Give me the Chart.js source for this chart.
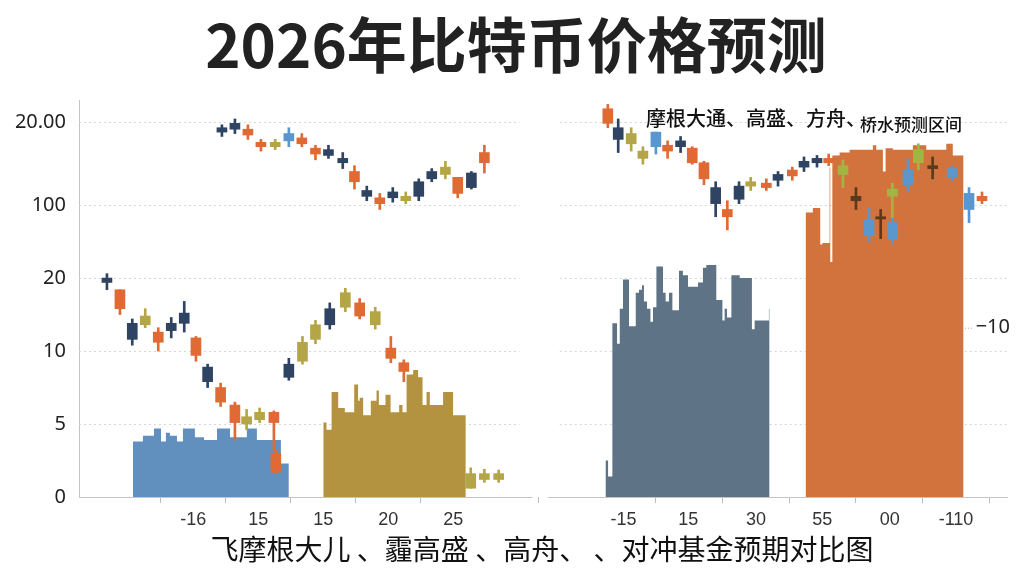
<!DOCTYPE html>
<html>
<head>
<meta charset="utf-8">
<script src="https://cdn.jsdelivr.net/npm/chart.js@4.4.1/dist/chart.umd.min.js"></script>
<style>
  html, body { margin: 0; background: #fff; }
</style>
</head>
<body>
<canvas id="canvas" width="1024" height="576"></canvas>
<script>
// y axis: odd labels from the picture, placed at even steps
var yTickValues = [0, 5, 10, 15, 20, 25.7];
var yTickLabels = ['0', '5', '10', '20', '100', '20.00'];

var xTickValues = [8.8, 13.8, 18.8, 23.8, 28.8, 41.9, 46.9, 52.1, 57.2, 62.4, 67.5];
var xTickLabels = ['-16', '15', '15', '20', '25', '-15', '15', '30', '55', '00', '-110'];

// candles: [x, open, close, high, low, source]
var candlesLowerLeft = [
  [2.15, 15.0, 14.7, 15.3, 14.2, 'JPM'],
  [3.15, 14.2, 12.9, 14.2, 12.5, 'GS'],
  [4.1, 11.9, 10.8, 12.2, 10.4, 'JPM'],
  [5.1, 12.4, 11.8, 12.9, 11.6, 'ARK'],
  [6.1, 11.3, 10.6, 11.6, 10.0, 'GS'],
  [7.1, 11.9, 11.4, 12.3, 10.9, 'JPM'],
  [8.1, 12.6, 11.9, 13.4, 11.3, 'JPM'],
  [9.0, 10.9, 9.7, 11.0, 9.3, 'GS'],
  [9.9, 8.9, 7.9, 9.1, 7.5, 'JPM'],
  [10.9, 7.5, 6.5, 7.8, 6.2, 'GS'],
  [12.0, 6.3, 5.1, 6.5, 3.9, 'GS'],
  [12.9, 5.5, 5.0, 6.0, 4.6, 'ARK'],
  [13.9, 5.8, 5.3, 6.1, 5.1, 'ARK'],
  [15.0, 5.8, 5.1, 5.9, 3.2, 'GS'],
  [15.15, 3.0, 1.7, 3.2, 1.6, 'GS'],
  [16.15, 9.1, 8.2, 9.5, 8.0, 'JPM'],
  [17.2, 10.6, 9.3, 11.0, 9.1, 'ARK'],
  [18.2, 11.8, 10.8, 12.1, 10.5, 'ARK'],
  [19.3, 12.9, 11.8, 13.3, 11.5, 'JPM'],
  [20.5, 14.0, 13.0, 14.3, 12.7, 'ARK'],
  [21.6, 13.3, 12.4, 13.6, 12.2, 'GS'],
  [22.8, 12.7, 11.8, 13.0, 11.5, 'ARK'],
  [24.0, 10.2, 9.5, 11.0, 9.2, 'GS'],
  [25.0, 9.2, 8.6, 9.4, 7.9, 'GS'],
  [30.15, 1.6, 0.6, 2.0, 0.6, 'ARK'],
  [31.2, 1.6, 1.2, 1.9, 1.0, 'ARK'],
  [32.3, 1.6, 1.2, 1.85, 1.0, 'ARK']
];

var candlesUpperLeft = [
  [11.0, 25.3, 25.0, 25.5, 24.7, 'JPM'],
  [12.0, 25.6, 25.2, 25.9, 24.9, 'JPM'],
  [13.0, 25.2, 24.8, 25.5, 24.5, 'GS'],
  [14.0, 24.3, 24.0, 24.5, 23.7, 'GS'],
  [15.1, 24.3, 24.0, 24.5, 23.8, 'ARK'],
  [16.15, 24.9, 24.4, 25.3, 24.0, 'BW'],
  [17.15, 24.6, 24.2, 24.9, 24.0, 'GS'],
  [18.2, 23.9, 23.5, 24.1, 23.1, 'GS'],
  [19.2, 23.8, 23.4, 24.1, 23.2, 'JPM'],
  [20.3, 23.2, 22.9, 23.6, 22.5, 'JPM'],
  [21.2, 22.3, 21.6, 22.7, 21.1, 'GS'],
  [22.15, 21.0, 20.6, 21.3, 20.3, 'JPM'],
  [23.15, 20.5, 20.1, 20.8, 19.7, 'GS'],
  [24.15, 20.9, 20.5, 21.2, 20.2, 'JPM'],
  [25.15, 20.6, 20.3, 20.9, 20.1, 'ARK'],
  [26.15, 21.6, 20.6, 21.8, 20.3, 'JPM'],
  [27.15, 22.3, 21.8, 22.5, 21.6, 'JPM'],
  [28.2, 22.6, 22.1, 23.0, 21.8, 'ARK'],
  [29.15, 21.9, 20.8, 21.9, 20.5, 'GS'],
  [30.2, 22.2, 21.2, 22.3, 21.1, 'JPM'],
  [31.2, 23.6, 22.9, 24.1, 22.2, 'GS']
];

var candlesRight = [
  [40.7, 26.6, 25.6, 26.9, 25.3, 'GS'],
  [41.5, 25.3, 24.5, 25.9, 23.6, 'JPM'],
  [42.5, 24.9, 24.2, 25.3, 23.7, 'ARK'],
  [43.4, 23.7, 23.2, 24.0, 22.8, 'ARK'],
  [44.4, 25.0, 24.0, 25.0, 23.5, 'BW'],
  [45.3, 24.1, 23.7, 24.4, 23.2, 'GS'],
  [46.3, 24.4, 24.0, 24.7, 23.6, 'JPM'],
  [47.2, 23.9, 22.9, 24.0, 22.8, 'GS'],
  [48.1, 22.9, 21.8, 23.0, 21.4, 'GS'],
  [49.0, 21.2, 20.1, 21.6, 19.2, 'JPM'],
  [49.9, 19.7, 19.2, 20.3, 18.3, 'GS'],
  [50.8, 21.3, 20.4, 21.6, 20.1, 'JPM'],
  [51.7, 21.6, 21.3, 21.9, 21.0, 'ARK'],
  [52.9, 21.5, 21.2, 21.8, 21.0, 'GS'],
  [53.8, 22.1, 21.7, 22.3, 21.3, 'JPM'],
  [54.9, 22.4, 22.0, 22.6, 21.7, 'GS'],
  [55.8, 23.0, 22.6, 23.3, 22.3, 'JPM'],
  [56.8, 23.2, 22.9, 23.4, 22.6, 'JPM'],
  [57.7, 23.2, 22.9, 23.5, 22.7, 'GS'],
  [58.8, 22.7, 22.1, 23.1, 21.2, 'HF2'],
  [59.8, 20.6, 20.3, 21.2, 19.7, 'HF'],
  [60.8, 19.0, 17.9, 19.8, 17.5, 'BW'],
  [61.7, 19.2, 19.05, 19.7, 17.7, 'HF'],
  [62.6, 21.1, 20.6, 21.5, 19.1, 'HF2'],
  [62.6, 18.8, 17.7, 19.1, 17.3, 'BW'],
  [63.8, 22.4, 21.4, 23.2, 20.9, 'BW'],
  [64.6, 23.8, 22.9, 24.2, 22.4, 'HF2'],
  [65.7, 22.7, 22.5, 23.3, 21.8, 'HF'],
  [67.2, 22.5, 21.9, 22.7, 21.7, 'BW'],
  [68.5, 20.8, 19.7, 21.2, 18.8, 'BW'],
  [69.5, 20.6, 20.3, 20.9, 20.1, 'GS']
];

// step areas: start x of each step and its height, last x closes the area
var histBlueX = [4.15, 4.92, 5.77, 6.31, 6.69, 7.0, 7.54, 8.0, 8.92, 9.62, 10.62, 11.62, 12.92, 13.69, 15.54, 16.15];
var histBlueY = [3.8, 4.2, 4.7, 3.8, 4.4, 4.2, 3.8, 4.7, 4.1, 3.9, 4.7, 4.1, 4.7, 3.9, 2.3, 0];

var histGoldX = [18.8, 19.05, 19.44, 19.95, 20.46, 21.18, 21.48, 21.6, 21.87, 22.46, 22.9, 23.08, 23.59, 23.98, 24.64, 24.9, 25.21, 25.72, 26.1, 26.44, 26.75, 27.0, 28.02, 28.79, 29.77];
var histGoldY = [5.1, 4.6, 7.2, 6.1, 5.8, 7.7, 6.6, 6.8, 5.6, 6.6, 7.3, 6.3, 7.0, 5.8, 6.3, 5.8, 8.4, 8.7, 8.2, 6.3, 7.2, 6.3, 7.2, 5.6, 0];

var histSlateX = [40.52, 40.72, 41.05, 41.41, 41.62, 41.87, 42.33, 42.85, 43.1, 43.33, 43.48, 43.72, 43.98, 44.18, 44.44, 44.95, 45.15, 45.41, 45.67, 46.18, 46.48, 46.87, 47.64, 48.02, 48.28, 49.05, 49.52, 49.69, 49.87, 50.21, 50.85, 51.79, 52.0, 53.1, 53.15];
var histSlateY = [2.5, 1.4, 11.9, 10.5, 12.9, 14.9, 11.7, 14.0, 14.2, 14.5, 13.4, 12.9, 12.0, 13.0, 15.8, 14.0, 13.4, 14.0, 12.8, 15.5, 15.2, 14.4, 14.7, 15.7, 15.9, 13.5, 12.1, 12.9, 12.3, 15.2, 15.0, 11.5, 12.1, 12.9, 0];

var histOrangeX = [55.92, 56.48, 57.05, 57.21, 57.77, 57.82, 57.98, 58.54, 59.31, 61.1, 61.36, 61.87, 62.08, 62.64, 64.18, 65.21, 66.75, 67.25, 68.08];
var histOrangeY = [19.5, 19.8, 17.3, 17.4, 22.6, 16.1, 23.4, 23.6, 23.8, 24.1, 23.8, 22.3, 23.9, 23.8, 24.1, 23.8, 24.2, 23.4, 0];

var colors = {
  JPM: '#2f4462',
  GS: '#e06a34',
  ARK: '#b4a646',
  BW: '#5b97cf',
  HF: '#5a3a1c',
  HF2: '#a4b443'
};

var allCandles = candlesLowerLeft.concat(candlesUpperLeft, candlesRight);

function stepData(xs, ys) {
  return xs.map(function (v, i) { return { x: v, y: ys[i] }; });
}

function histSet(xs, ys, color) {
  return {
    type: 'line',
    data: stepData(xs, ys),
    stepped: 'before',
    fill: 'origin',
    backgroundColor: color,
    borderWidth: 0,
    pointRadius: 0,
    order: 3
  };
}

var panels = [
  { grid: [0, 33.9], axis: [0, 34.9] },
  { grid: [37.0, 71.5], axis: [36.1, 71.5] }
];

var extras = {
  id: 'extras',
  beforeDatasetsDraw: function (chart) {
    var ctx = chart.ctx, x = chart.scales.x, y = chart.scales.y;
    ctx.save();
    ctx.strokeStyle = '#d6d6d6';
    ctx.lineWidth = 1;
    ctx.setLineDash([2, 3]);
    yTickValues.slice(1).forEach(function (v) {
      var py = Math.round(y.getPixelForValue(v)) + 0.5;
      panels.forEach(function (p) {
        ctx.beginPath();
        ctx.moveTo(x.getPixelForValue(p.grid[0]), py);
        ctx.lineTo(x.getPixelForValue(p.grid[1]), py);
        ctx.stroke();
      });
    });
    ctx.setLineDash([]);
    ctx.strokeStyle = '#c4c4c4';
    var by = Math.round(y.getPixelForValue(0)) + 0.5;
    panels.forEach(function (p) {
      ctx.beginPath();
      ctx.moveTo(x.getPixelForValue(p.axis[0]), by);
      ctx.lineTo(x.getPixelForValue(p.axis[1]), by);
      ctx.stroke();
    });
    ctx.restore();
  },
  afterDraw: function (chart) {
    var ctx = chart.ctx, a = chart.chartArea, y = chart.scales.y;
    ctx.save();
    ctx.fillStyle = '#222';
    ctx.textAlign = 'center';
    ctx.textBaseline = 'middle';
    ctx.font = 'bold 60px "Noto Sans CJK SC"';
    ctx.fillText('2026年比特币价格预测', 516, 45);

    ctx.fillStyle = '#111';
    ctx.font = '28px "Noto Sans CJK SC"';
    ctx.fillText('飞摩根大儿 、霾高盛 、高舟、 、对冲基金预期对比图', 542, 549);

    ctx.textAlign = 'left';
    ctx.font = '500 20px "Noto Sans CJK SC"';
    ctx.fillText('摩根大通、高盛、方舟、', 646, 118);
    ctx.font = '500 17px "Noto Sans CJK SC"';
    ctx.fillText('桥水预测区间', 860, 125);

    // right side label
    var ly = y.getPixelForValue(11.6);
    ctx.font = '20px "Noto Sans"';
    ctx.textAlign = 'right';
    ctx.fillStyle = '#222';
    ctx.fillText('−10', a.right + 2, ly);
    ctx.strokeStyle = '#aaa';
    ctx.setLineDash([1, 2]);
    ctx.beginPath();
    ctx.moveTo(a.right - 43, ly + 0.5);
    ctx.lineTo(a.right - 35, ly + 0.5);
    ctx.stroke();
    ctx.restore();
  }
};

const ctx = document.getElementById('canvas');

new Chart(ctx, {
  type: 'bar',
  data: {
    datasets: [
      {
        data: allCandles.map(function (c) { return { x: c[0], y: [c[1], c[2]] }; }),
        backgroundColor: allCandles.map(function (c) { return colors[c[5]]; }),
        barThickness: 10,
        grouped: false,
        order: 1
      },
      {
        data: allCandles.map(function (c) { return { x: c[0], y: [c[4], c[3]] }; }),
        backgroundColor: allCandles.map(function (c) { return colors[c[5]]; }),
        barThickness: 2,
        grouped: false,
        order: 2
      },
      histSet(histBlueX, histBlueY, '#6190bf'),
      histSet(histGoldX, histGoldY, '#b49340'),
      histSet(histSlateX, histSlateY, '#5f7387'),
      histSet(histOrangeX, histOrangeY, '#d2723c')
    ]
  },
  options: {
    responsive: false,
    animation: false,
    devicePixelRatio: 1,
    layout: { padding: { top: 100, right: 16, left: 0, bottom: 0 } },
    plugins: {
      legend: { display: false },
      tooltip: { enabled: false }
    },
    scales: {
      x: {
        type: 'linear',
        min: 0,
        max: 71.5,
        offset: false,
        afterBuildTicks: function (s) { s.ticks = xTickValues.map(function (v) { return { value: v }; }); },
        afterFit: function (s) { s.height = 79; },
        grid: { drawOnChartArea: false, tickLength: 6, color: '#bbb' },
        border: { display: false },
        ticks: {
          autoSkip: false,
          maxRotation: 0,
          padding: 6,
          color: '#333',
          font: { family: 'Liberation Sans', size: 18 },
          callback: function (v, i) { return xTickLabels[i]; }
        }
      },
      y: {
        min: 0,
        max: 27.2,
        afterBuildTicks: function (s) { s.ticks = yTickValues.map(function (v) { return { value: v }; }); },
        afterFit: function (s) { s.width = 79; },
        grid: { display: false },
        border: { display: true, color: '#c4c4c4' },
        ticks: {
          padding: 5,
          color: '#222',
          font: { family: 'Noto Sans', size: 20 },
          callback: function (v, i) { return yTickLabels[i]; }
        }
      }
    }
  },
  plugins: [extras]
});
</script>
</body>
</html>
